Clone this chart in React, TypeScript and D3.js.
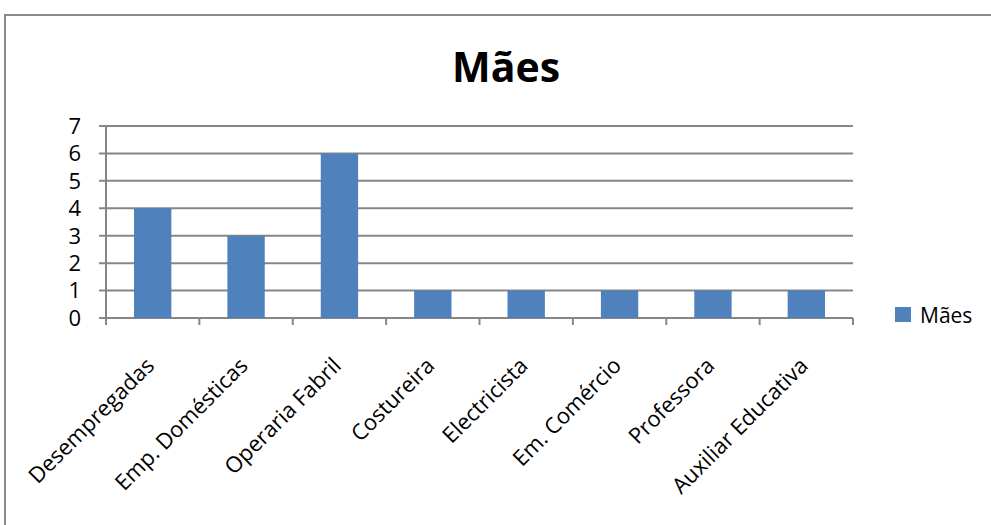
import React from "react";
import * as d3 from "d3";

const categories = [
  "Desempregadas",
  "Emp. Domésticas",
  "Operaria Fabril",
  "Costureira",
  "Electricista",
  "Em. Comércio",
  "Professora",
  "Auxiliar Educativa",
];
const values = [4, 3, 6, 1, 1, 1, 1, 1];
const yTicks = [0, 1, 2, 3, 4, 5, 6, 7];
const seriesName = "Mães";
const title = "Mães";

const W = 991;
const H = 525;
const plot = { left: 106, right: 853, top: 126, bottom: 318 };
const FONT = "'Open Sans', 'Noto Sans', sans-serif";
const GRID = "#868686";
const BAR = "#4F81BD";

export default function App() {
  const x = d3
    .scaleBand<string>()
    .domain(categories)
    .range([plot.left, plot.right])
    .paddingInner(0.6)
    .paddingOuter(0.3);
  const band = d3.scaleBand<string>().domain(categories).range([plot.left, plot.right]);
  const y = d3.scaleLinear().domain([0, 7]).range([plot.bottom, plot.top]);

  const tickXs = d3.range(categories.length + 1).map((i) => plot.left + i * band.step());

  return (
    <svg
      width={W}
      height={H}
      style={{ position: "absolute", left: 0, top: 0, background: "#fff" }}
      fontFamily={FONT}
    >
      <rect x={0} y={0} width={W} height={H} fill="#fff" />
      {/* outer border */}
      <path d={`M5,${H + 5} L5,15 L${W + 5},15`} fill="none" stroke="#8a8a8a" strokeWidth={2} />

      <text x={506} y={82} textAnchor="middle" fontSize={41} fontWeight="bold" fill="#000">
        {title}
      </text>

      {/* gridlines */}
      {yTicks.map((t) => (
        <line
          key={"g" + t}
          x1={plot.left - 7}
          x2={plot.right}
          y1={y(t)}
          y2={y(t)}
          stroke={GRID}
          strokeWidth={2}
        />
      ))}
      {/* y axis */}
      <line x1={plot.left} x2={plot.left} y1={plot.top} y2={plot.bottom + 6} stroke={GRID} strokeWidth={2} />
      {yTicks.map((t) => (
        <text
          key={"yl" + t}
          x={81}
          y={y(t)}
          dy="0.36em"
          textAnchor="end"
          fontSize={22}
          fill="#000"
        >
          {t}
        </text>
      ))}

      {/* bars */}
      {categories.map((c, i) => (
        <rect
          key={c}
          x={x(c)}
          y={y(values[i])}
          width={x.bandwidth()}
          height={y(0) - y(values[i])}
          fill={BAR}
        />
      ))}

      {/* x ticks */}
      {tickXs.map((tx, i) => (
        <line key={"xt" + i} x1={tx} x2={tx} y1={plot.bottom} y2={plot.bottom + 7} stroke={GRID} strokeWidth={2} />
      ))}

      {/* x labels */}
      {categories.map((c) => {
        const cx = (band(c) as number) + band.bandwidth() / 2 + 3;
        const cy = 367;
        return (
          <text
            key={"xl" + c}
            transform={`translate(${cx},${cy}) rotate(-45)`}
            textAnchor="end"
            fontSize={22}
            fill="#000"
          >
            {c}
          </text>
        );
      })}

      {/* legend */}
      <rect x={895} y={307} width={16} height={15} fill={BAR} />
      <text x={920} y={323} fontSize={21} fill="#000">
        {seriesName}
      </text>
    </svg>
  );
}
